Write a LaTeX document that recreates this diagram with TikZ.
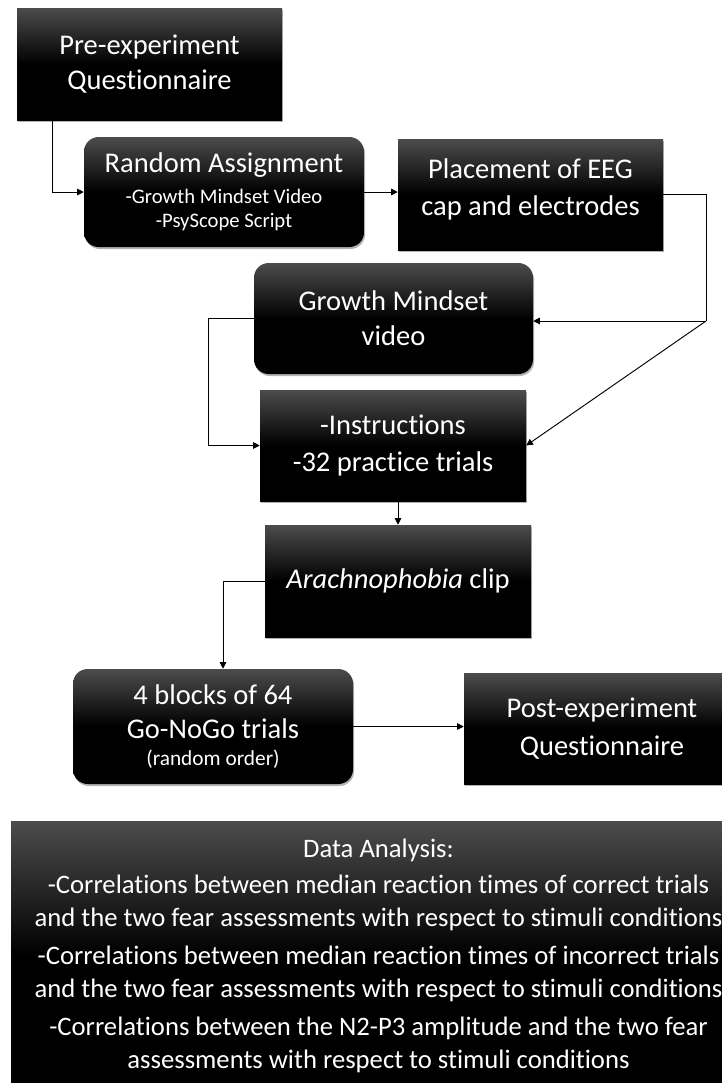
\documentclass[tikz,border=0pt]{standalone}
\usepackage{fontspec}
\setmainfont{Carlito}[Ligatures={NoCommon,NoContextual,NoRequired}, RawFeature={-liga;-clig;-calt;-dlig}]
\usetikzlibrary{arrows.meta,calc,shadows}
\definecolor{boxtop}{RGB}{76,76,76}
\pgfdeclareverticalshading{boxshade}{100bp}{color(0bp)=(black); color(25bp)=(black); color(50bp)=(black); color(75bp)=(boxtop); color(100bp)=(boxtop)}
\newcommand\pxu{0.75pt}
\newcommand\MainFS{\fontsize{21.4}{26}\selectfont}
\newcommand\SubFS{\fontsize{15.5}{18.75}\selectfont}
\newcommand\RandFS{\fontsize{16}{19}\selectfont}
\newcommand\DataFS{\fontsize{20}{24.75}\selectfont}
\begin{document}
\begin{tikzpicture}[x=0.75pt,y=-0.75pt,
  box/.style={shading=boxshade, text=white, align=center, inner sep=0pt,
    font=\MainFS, drop shadow={shadow xshift=0.8pt, shadow yshift=-1.5pt, opacity=0.3, fill=black}},
  rbox/.style={box, rounded corners=11pt},
  ln/.style={line width=0.7pt, draw=black},
  arr/.style={ln, -{Triangle[length=5pt,width=5pt]}}]
\path[use as bounding box] (0,0) rectangle (722,1083);
\clip (0,0) rectangle (722,1083);

\node[box, minimum width=265*\pxu, minimum height=112*\pxu] (pre) at (149.5,64)
  {Pre-experiment\\Questionnaire};
\node[rbox, minimum width=280*\pxu, minimum height=110*\pxu] (rand) at (224,192)
  {Random Assignment\\[-3pt]{\SubFS -Growth Mindset Video}\\[-8pt]{\SubFS -PsyScope Script}};
\node[box, minimum width=265*\pxu, minimum height=111*\pxu] (place) at (530.5,194.5)
  {Placement of EEG\\[2pt]cap and electrodes\\[-14.5pt]\mbox{}};
\node[rbox, minimum width=279*\pxu, minimum height=111*\pxu] (growth) at (393.5,318.5)
  {Growth Mindset\\video};
\node[box, minimum width=266*\pxu, minimum height=111*\pxu] (instr) at (393,445.5)
  {-Instructions\\[2pt]-32 practice trials};
\node[box, minimum width=266*\pxu, minimum height=112*\pxu] (arach) at (398,581)
  {\textit{Arachnophobia} clip};
\node[rbox, minimum width=280*\pxu, minimum height=115*\pxu] (gonogo) at (213,726.5)
  {4 blocks of 64\\Go-NoGo trials\\[-6pt]{\RandFS (random order)}};
\node[box, minimum width=276*\pxu, minimum height=111*\pxu] (post) at (602,728.5)
  {Post-experiment\\[2pt]Questionnaire};
\node[box, font=\DataFS, minimum width=735*\pxu, minimum height=270*\pxu] (data) at (378.5,956)
  {Data Analysis:\\[2pt]
   -Correlations between median reaction times of correct trials\\
   and the two fear assessments with respect to stimuli conditions\\[4pt]
   -Correlations between median reaction times of incorrect trials\\
   and the two fear assessments with respect to stimuli conditions\\[4pt]
   -Correlations between the N2-P3 amplitude and the two fear\\
   assessments with respect to stimuli conditions};

\coordinate (j) at (706,321);
\draw[arr] ($(pre.south west)+(36,0)$) |- (rand.west);
\draw[arr] (rand.east) -- (rand.east -| place.west);
\draw[ln] (place.east) -| (j);
\draw[arr] (j) -- (j -| growth.east);
\draw[arr] (j) -- (instr.east);
\draw[arr] (growth.west) -- ++(-45,0) |- (instr.west);
\draw[arr] (arach.north |- instr.south) -- (arach.north);
\draw[arr] (arach.west) -| ($(gonogo.north)+(10,0)$);
\draw[arr] (gonogo.east) -- (gonogo.east -| post.west);
\end{tikzpicture}
\end{document}
